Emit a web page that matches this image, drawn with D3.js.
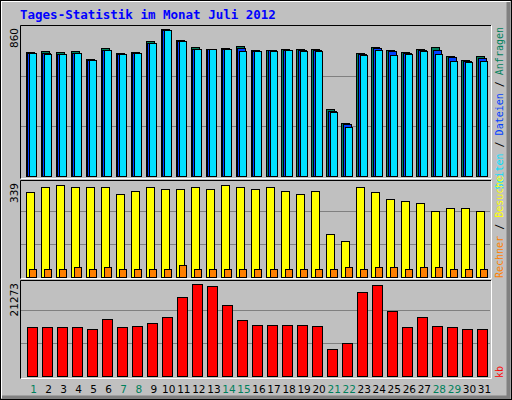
<!DOCTYPE html>
<html><head><meta charset="utf-8">
<script src="https://cdn.jsdelivr.net/npm/d3@7"></script>
<style>body{margin:0;background:#fff}svg{display:block}</style>
</head><body>
<svg id="c" width="512" height="400"></svg>
<script>
var days = d3.range(1, 32);
var weekend = [1, 7, 8, 14, 15, 21, 22, 28, 29];
var hits  = [709,715,709,715,669,732,703,709,772,841,778,738,726,732,744,721,722,726,726,726,384,302,703,738,721,709,726,738,686,663,686];
var files = [705,707,698,705,663,722,698,703,761,835,772,726,726,726,732,717,721,722,721,721,374,296,699,732,717,703,721,721,680,661,675];
var pages = [703,698,698,703,663,721,698,703,761,835,772,726,726,726,715,715,715,721,715,715,365,279,692,721,692,698,715,698,659,652,658];
var visits = [291,305,315,308,305,308,281,294,305,301,298,305,298,315,308,298,305,294,281,294,144,120,308,291,264,257,250,226,236,236,226];
var sites = [27,27,27,31,27,31,27,27,27,27,38,27,24,27,27,24,27,27,27,27,27,31,27,31,31,27,31,31,27,24,24];
var kbytes = [10315,10315,10315,10315,9885,12034,10315,10530,11175,12464,16762,19556,19126,15043,11820,10745,10745,10745,10745,10530,5587,6877,17837,19341,13754,10315,12464,10530,10315,9885,9885];
var maxLabels = ["860", "339", "21273"];

var svg = d3.select("#c");
var mono = "DejaVu Sans Mono, monospace";

// frame
svg.append("rect").attr("width", 512).attr("height", 400).attr("fill", "#c0c0c0");
svg.append("path").attr("d", "M1,398V1H510").attr("stroke", "#fff").attr("stroke-width", 2).attr("fill", "none");
svg.append("path").attr("d", "M2,397.5H508.5V2").attr("stroke", "#808080").attr("stroke-width", 4).attr("fill", "none");
svg.append("rect").attr("x", 0.5).attr("y", 0.5).attr("width", 511).attr("height", 399)
  .attr("fill", "none").attr("stroke", "#000");

svg.append("text").attr("x", 20).attr("y", 19).attr("fill", "#0000ff")
  .attr("font-family", mono).attr("font-weight", "bold").attr("font-size", 12.5)
  .text("Tages-Statistik im Monat Juli 2012");

var x = d3.scaleBand().domain(days).range([25, 491]);

var panels = [
  {top: 25, bottom: 178.5, y: d3.scaleLinear().domain([0, 860]).range([176, 26])},
  {top: 180, bottom: 278.5, y: d3.scaleLinear().domain([0, 339]).range([276.5, 177.5])},
  {top: 280, bottom: 378.5, y: d3.scaleLinear().domain([0, 21273]).range([375.5, 276.5])}
];

panels.forEach(function (p, i) {
  var base = p.y.range()[0];
  [1, 2].forEach(function (k) {
    var gy = Math.round(base - (base - p.y.range()[1]) * k / 3) + 0.5;
    svg.append("line").attr("x1", 21).attr("x2", 490).attr("y1", gy).attr("y2", gy)
      .attr("stroke", "#808080");
  });
  svg.append("path").attr("d", "M20.5," + p.bottom + "V" + (p.top + 0.5) + "H491")
    .attr("stroke", "#000").attr("fill", "none");
  svg.append("path").attr("d", "M21," + p.bottom + "H491.5V" + (p.top + 0.5))
    .attr("stroke", "#fff").attr("fill", "none");
  svg.append("text").attr("transform", "translate(18," + (p.top + 3) + ") rotate(-90)")
    .attr("text-anchor", "end").attr("font-family", "DejaVu Sans, sans-serif").attr("font-size", 10.5)
    .text(maxLabels[i]);
});

function bars(data, y, dx, w, fill) {
  var base = y.range()[0];
  svg.append("g").selectAll("rect").data(data).join("rect")
    .attr("x", function (d, i) { return Math.round(x(days[i]) + dx) + 0.5; })
    .attr("y", function (d) { return Math.round(y(d)) + 0.5; })
    .attr("width", w)
    .attr("height", function (d) { return base - Math.round(y(d)); })
    .attr("fill", fill).attr("stroke", "#000").attr("shape-rendering", "crispEdges");
}

bars(hits, panels[0].y, 0.5, 8, "#00805c");
bars(files, panels[0].y, 2, 8, "#0040ff");
bars(pages, panels[0].y, 4, 7, "#00e0ff");
bars(visits, panels[1].y, 0.5, 8, "#ffff00");
bars(sites, panels[1].y, 4, 7, "#ff8000");
bars(kbytes, panels[2].y, 1.5, 10, "#ff0000");

// day labels
svg.append("g").selectAll("text").data(days).join("text")
  .attr("x", function (d) { return x(d) + x.bandwidth() / 2 + 1; })
  .attr("y", 393).attr("text-anchor", "middle")
  .attr("font-family", "DejaVu Sans, sans-serif").attr("font-size", 10.5)
  .attr("fill", function (d) { return weekend.indexOf(d) >= 0 ? "#00805c" : "#000"; })
  .text(function (d) { return d; });

// right side legends
function legend(parts, yPos, anchor) {
  var t = svg.append("text").attr("transform", "translate(503," + yPos + ") rotate(-90)")
    .attr("text-anchor", anchor).attr("font-family", mono).attr("font-size", 10);
  parts.forEach(function (p) { t.append("tspan").attr("fill", p[1]).text(p[0]); });
}
legend([["Seiten", "#00e0ff"], [" / ", "#000"], ["Dateien", "#0040ff"], [" / ", "#000"], ["Anfragen", "#00805c"]], 27, "end");
legend([["Rechner", "#ff8000"], [" / ", "#000"], ["Besuche", "#ffff00"]], 278, "start");
legend([["kb", "#ff0000"]], 378, "start");
</script>
</body></html>
